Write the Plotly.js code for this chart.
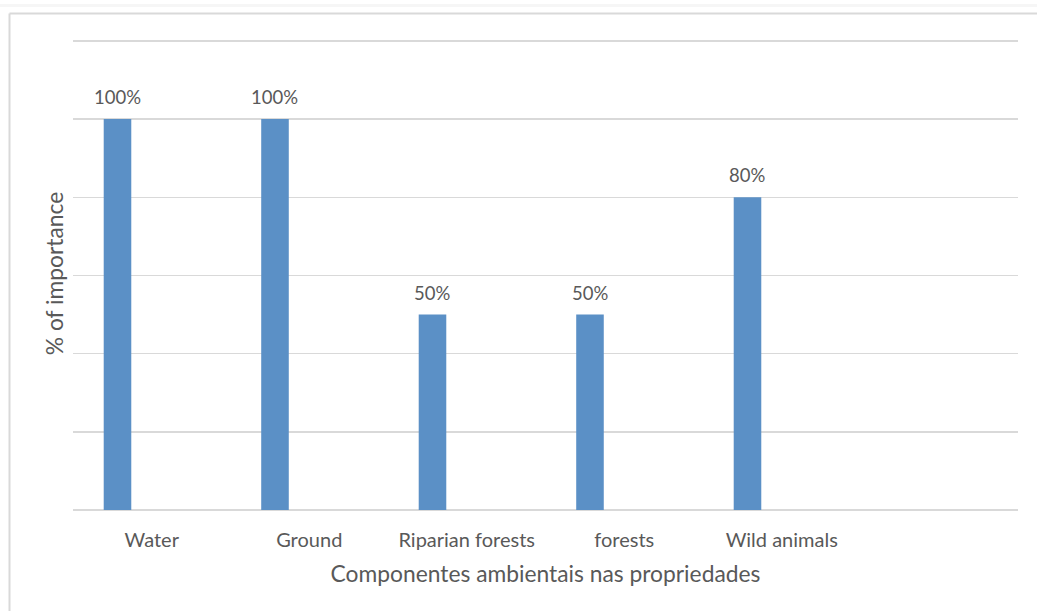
<!DOCTYPE html>
<html>
<head>
<meta charset="utf-8">
<script src="https://cdn.plot.ly/plotly-3.0.1.min.js"></script>
<style>html,body{margin:0;padding:0;background:#fff;}#chart{width:1037px;height:611px;}</style>
</head>
<body>
<div id="chart"></div>
<script>
const categories = ['Water', 'Ground', 'Riparian forests', 'forests', 'Wild animals'];
const slots = ['Water', 'Ground', 'Riparian forests', 'forests', 'Wild animals', ' '];
const values = [100, 100, 50, 50, 80];
const labels = values.map(v => v + '%');
const yTicks = [0, 20, 40, 60, 80, 100, 120];

const textColor = '#595959';
const fontFam = 'Lato, "Open Sans", sans-serif';
const barOffset = -0.305;
const barWidth = 0.175;
const pxPerCat = 945 / 6;
const labelShift = (barOffset + barWidth / 2) * pxPerCat;

const trace = {
  type: 'bar',
  x: categories,
  y: values,
  offset: barOffset,
  width: barWidth,
  marker: {color: '#5b90c6'},
  hoverinfo: 'none'
};

const annotations = categories.map((c, i) => ({
  x: c, y: values[i], xref: 'x', yref: 'y',
  text: labels[i], showarrow: false,
  xshift: labelShift, yshift: 22,
  font: {family: fontFam, size: 18.5, color: textColor}
}));

const border = '#d9d9d9';
const shapes = [
  {type: 'line', xref: 'paper', yref: 'paper', x0: -0.0672, x1: 1.03, y0: 1.0495, y1: 1.0495, line: {color: border, width: 2}},
  {type: 'line', xref: 'paper', yref: 'paper', x0: -0.0672, x1: -0.0672, y0: 1.0495, y1: -0.23, line: {color: border, width: 2}},
  {type: 'line', xref: 'paper', yref: 'paper', x0: -0.08, x1: 1.03, y0: 1.0665, y1: 1.0665, line: {color: '#f6f6f6', width: 3}}
];

const layout = {
  width: 1037, height: 611,
  margin: {l: 73, r: 19, t: 37, b: 101},
  paper_bgcolor: '#ffffff', plot_bgcolor: '#ffffff',
  showlegend: false,
  font: {family: fontFam, color: textColor},
  xaxis: {
    type: 'category',
    categoryorder: 'array', categoryarray: slots,
    range: [-0.5, 5.5],
    showgrid: false, zeroline: false, showline: false,
    ticks: 'outside', ticklen: 12, tickcolor: 'rgba(0,0,0,0)',
    tickfont: {family: fontFam, size: 20, color: textColor},
    title: {text: 'Componentes ambientais nas propriedades', font: {family: fontFam, size: 22.8, color: textColor}, standoff: 16},
    fixedrange: true
  },
  yaxis: {
    range: [0, 121],
    tickvals: yTicks,
    showticklabels: false,
    showgrid: true, gridcolor: border, gridwidth: 1.5,
    zeroline: true, zerolinecolor: border, zerolinewidth: 1.5,
    showline: false, ticks: '',
    title: {text: '% of importance', font: {family: fontFam, size: 22.8, color: textColor}, standoff: 2},
    fixedrange: true
  },
  annotations: annotations,
  shapes: shapes
};

Plotly.newPlot('chart', [trace], layout, {displayModeBar: false, staticPlot: true});
</script>
</body>
</html>
